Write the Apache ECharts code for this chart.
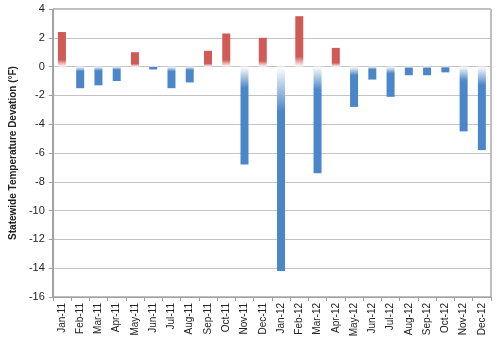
<!DOCTYPE html>
<html><head><meta charset="utf-8">
<script src="https://cdn.jsdelivr.net/npm/echarts@6/dist/echarts.min.js"></script>
<style>html,body{margin:0;padding:0;background:#fff}#c{width:500px;height:340px}</style>
</head><body><div id="c"></div>
<script>
const categories = ["Jan-11","Feb-11","Mar-11","Apr-11","May-11","Jun-11","Jul-11","Aug-11","Sep-11","Oct-11","Nov-11","Dec-11","Jan-12","Feb-12","Mar-12","Apr-12","May-12","Jun-12","Jul-12","Aug-12","Sep-12","Oct-12","Nov-12","Dec-12"];
const deviation = [2.4,-1.5,-1.3,-1.0,1.0,-0.2,-1.5,-1.1,1.1,2.3,-6.8,2.0,-14.2,3.5,-7.4,1.3,-2.8,-0.9,-2.1,-0.6,-0.6,-0.4,-4.5,-5.8];
const yTicks = [-16,-14,-12,-10,-8,-6,-4,-2,0,2,4];

const RED = '#d05a56', BLUE = '#4a86c8';
function styled(v){
  if (v >= 0) {
    return {value:v, itemStyle:{color:new echarts.graphic.LinearGradient(0,0,0,1,[
      {offset:0,color:RED},{offset:0.8,color:RED},{offset:1,color:'#ffffff'}])}};
  }
  return {value:v, itemStyle:{color:new echarts.graphic.LinearGradient(0,0,0,1,[
    {offset:0,color:'#ffffff'},{offset:0.22,color:BLUE},{offset:1,color:BLUE}])}};
}
const chart = echarts.init(document.getElementById('c'));
chart.setOption({
  animation:false,
  backgroundColor:'#fff',
  textStyle:{fontFamily:'Liberation Sans'},
  grid:{left:48,right:9,top:9,bottom:43,show:true,borderColor:'#7f7f7f',borderWidth:1},
  xAxis:{type:'category',data:categories,position:'bottom',
    axisLine:{onZero:false,lineStyle:{color:'#a0a0a0'}},
    axisTick:{show:true,alignWithLabel:false,length:4,lineStyle:{color:'#a0a0a0'}},
    axisLabel:{rotate:90,fontSize:10,color:'#222',margin:6,interval:0}},
  yAxis:{type:'value',min:yTicks[0],max:yTicks[yTicks.length-1],interval:2,
    name:'Statewide Temperature Devation (°F)',nameLocation:'middle',nameGap:34,
    nameTextStyle:{fontSize:10,fontWeight:'bold',color:'#222'},
    axisLine:{show:true,lineStyle:{color:'#a0a0a0'}},
    axisTick:{show:true,length:4,lineStyle:{color:'#a0a0a0'}},
    axisLabel:{fontSize:11,color:'#222',margin:8},
    splitLine:{lineStyle:{color:'#c4c4c4'}}},
  series:[{type:'bar',data:deviation.map(styled),barWidth:8}]
});
</script></body></html>
